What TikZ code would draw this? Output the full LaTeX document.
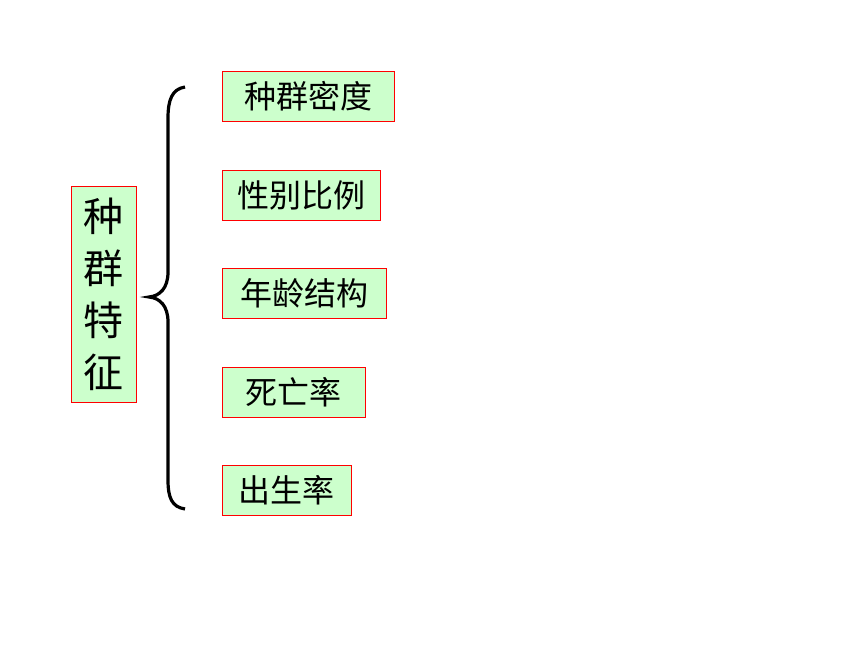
\documentclass[tikz,border=0pt]{standalone}
\usepackage{fontspec}
\setmainfont{Noto Sans CJK SC}
\usetikzlibrary{positioning}

\definecolor{boxgreen}{RGB}{204,255,204}
\tikzset{
	box/.style={draw=red, fill=boxgreen, line width=0.9pt, inner sep=0pt, anchor=north west},
	item/.style={box, minimum height=50, font=\fontsize{32}{36}\selectfont}
}

\begin{document}
\begin{tikzpicture}[x=1pt,y=-1pt]
			\useasboundingbox (0,0) rectangle (860,645);

			\node[box, minimum width=65, minimum height=216, align=center,
				font=\fontsize{40}{52}\selectfont] (feature) at (71,186) {种\\群\\特\\征};

			\node[item, minimum width=172] (density) at (222,71) {种群密度};
			\node[item, minimum width=158] (sexratio) at (222,170) {性别比例};
			\node[item, minimum width=164] (agestruct) at (222,268) {年龄结构};
			\node[item, minimum width=143] (deathrate) at (222,367) {死亡率};
			\node[item, minimum width=129] (birthrate) at (222,465) {出生率};

			% brace
			\draw[line width=3.2pt] (185,87) .. controls (172,89) and (168,100) .. (168,118)
				-- (168,272) .. controls (168,288) and (160,296) .. (149,297)
				.. controls (160,298) and (168,306) .. (168,322)
				-- (168,480) .. controls (168,498) and (172,507) .. (185,509);
		\end{tikzpicture}
\end{document}
